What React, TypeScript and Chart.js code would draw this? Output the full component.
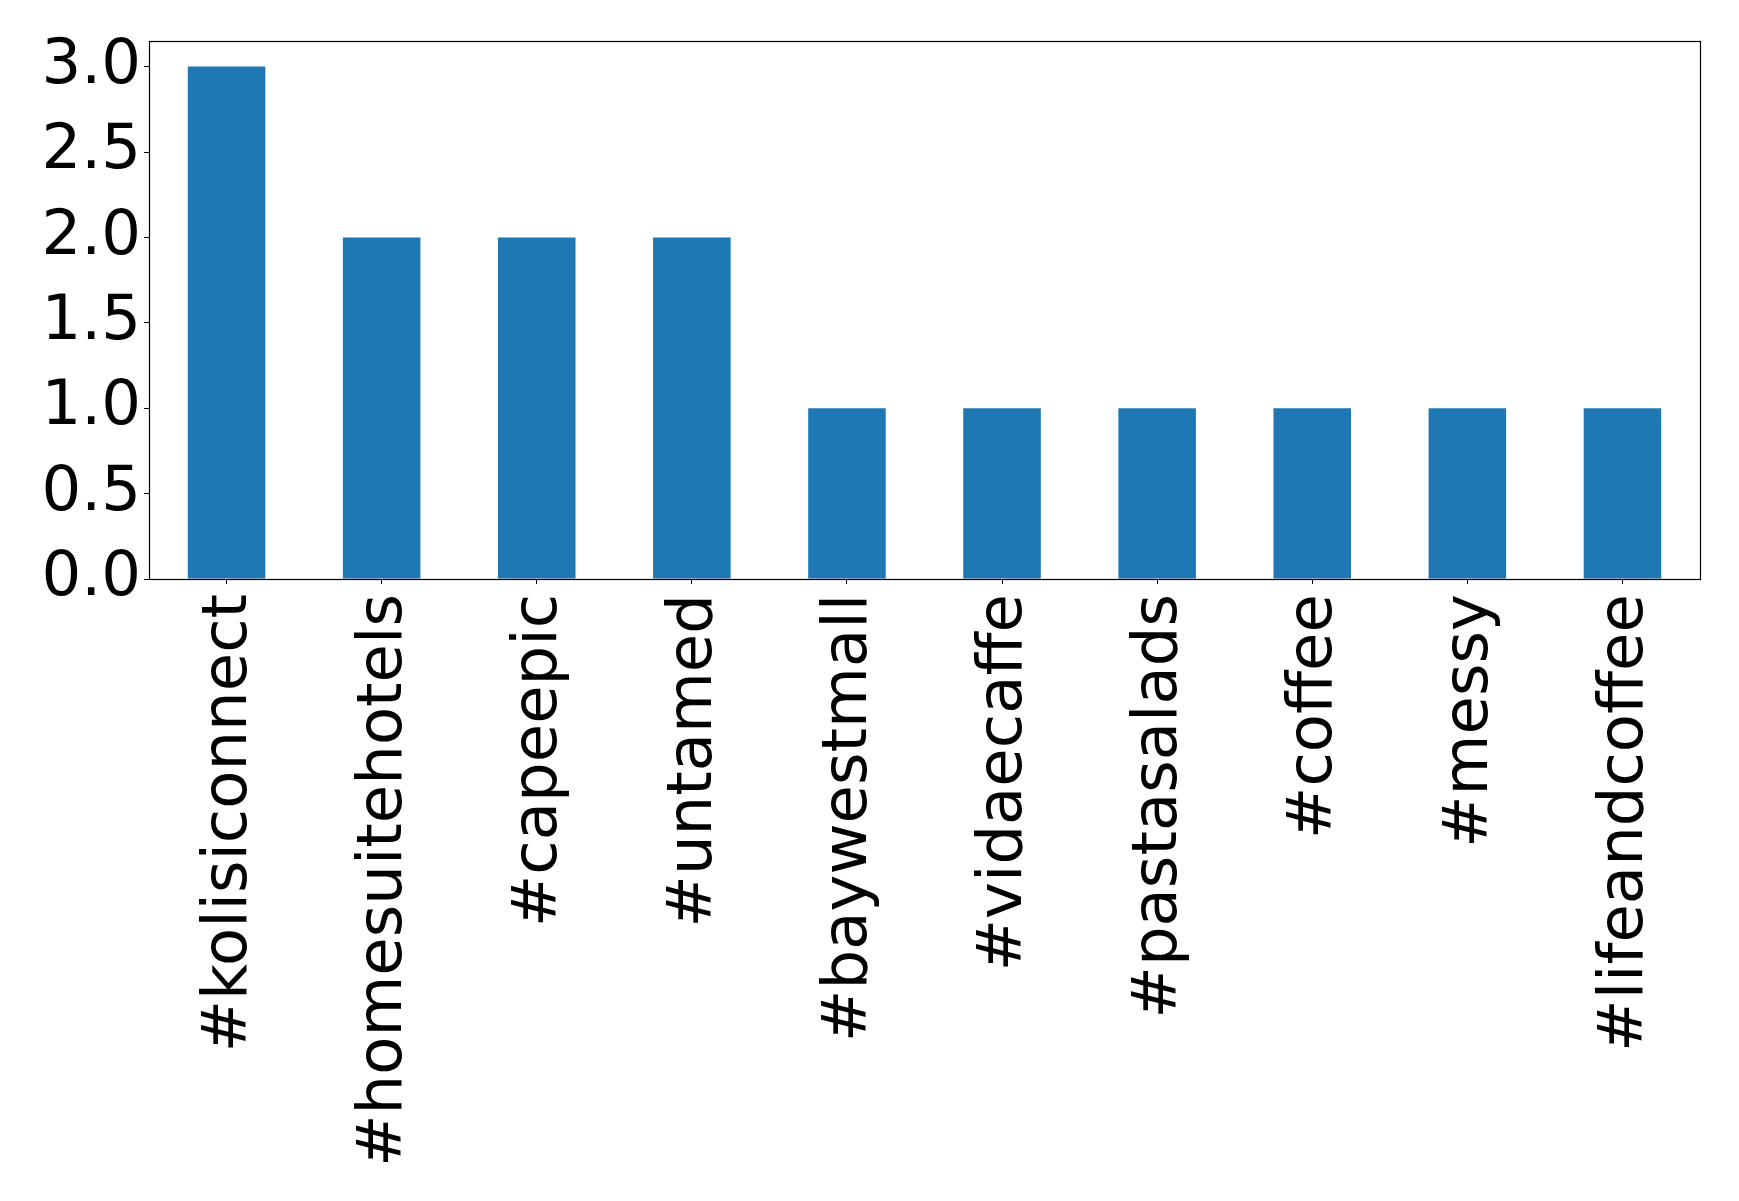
import React, { useEffect, useRef } from 'react';
import { Chart, registerables } from 'chart.js';

Chart.register(...registerables);

const categories = [
  '#kolisiconnect',
  '#homesuitehotels',
  '#capeepic',
  '#untamed',
  '#baywestmall',
  '#vidaecaffe',
  '#pastasalads',
  '#coffee',
  '#messy',
  '#lifeandcoffee',
];
const counts = [3, 2, 2, 2, 1, 1, 1, 1, 1, 1];
const yTicks = [0, 0.5, 1, 1.5, 2, 2.5, 3];
const yMin = 0;
const yMax = 3.15;

const W = 1739;
const H = 1201;
const FONT = "'DejaVu Sans'";
const FONT_SIZE = 62.5;

export default function App() {
  const ref = useRef<HTMLCanvasElement | null>(null);

  useEffect(() => {
    document.body.style.margin = '0';
    const canvas = ref.current;
    if (!canvas) return;

    const frame = {
      id: 'frame',
      afterDatasetsDraw(chart: any) {
        const { ctx, chartArea: a } = chart;
        ctx.save();
        ctx.strokeStyle = '#000';
        ctx.lineWidth = 1.2;
        const l = Math.round(a.left) + 0.5;
        const t = Math.round(a.top) + 0.5;
        const r = Math.round(a.right) + 0.5;
        const b = Math.round(a.bottom) + 0.5;
        ctx.strokeRect(l, t, r - l, b - t);
        ctx.restore();
      },
    };

    const chart = new Chart(canvas, {
      type: 'bar',
      data: {
        labels: categories,
        datasets: [
          {
            data: counts,
            backgroundColor: '#1f77b4',
            borderWidth: 0,
            barPercentage: 0.5,
            categoryPercentage: 1,
          },
        ],
      },
      options: {
        animation: false,
        responsive: true,
        maintainAspectRatio: false,
        devicePixelRatio: 1,
        layout: { padding: { top: 41, right: 39, left: 0, bottom: 0 } },
        plugins: {
          legend: { display: false },
          tooltip: { enabled: false },
          title: { display: false },
        },
        scales: {
          x: {
            type: 'category',
            offset: true,
            border: { display: false },
            grid: {
              display: true,
              drawOnChartArea: false,
              drawTicks: true,
              tickLength: 5,
              tickWidth: 1,
              tickColor: '#000',
              offset: false,
            },
            ticks: {
              autoSkip: false,
              minRotation: 90,
              maxRotation: 90,
              padding: 10,
              labelOffset: 3,
              color: '#000',
              font: { family: FONT, size: FONT_SIZE },
            },
            afterFit(scale: any) {
              scale.height = H - 579;
            },
          },
          y: {
            type: 'linear',
            min: yMin,
            max: yMax,
            border: { display: false },
            grid: {
              display: true,
              drawOnChartArea: false,
              drawTicks: true,
              tickLength: 5,
              tickWidth: 1,
              tickColor: '#000',
            },
            ticks: {
              includeBounds: false,
              stepSize: 0.5,
              padding: 3,
              color: '#000',
              font: { family: FONT, size: FONT_SIZE },
              callback: (v: any) => Number(v).toFixed(1),
            },
            afterBuildTicks(scale: any) {
              scale.ticks = yTicks.map((v) => ({ value: v }));
            },
            afterFit(scale: any) {
              scale.width = 149;
            },
          },
        },
      },
      plugins: [frame],
    });

    return () => chart.destroy();
  }, []);

  return (
    <div style={{ width: W, height: H, position: 'relative' }}>
      <canvas ref={ref} />
    </div>
  );
}
